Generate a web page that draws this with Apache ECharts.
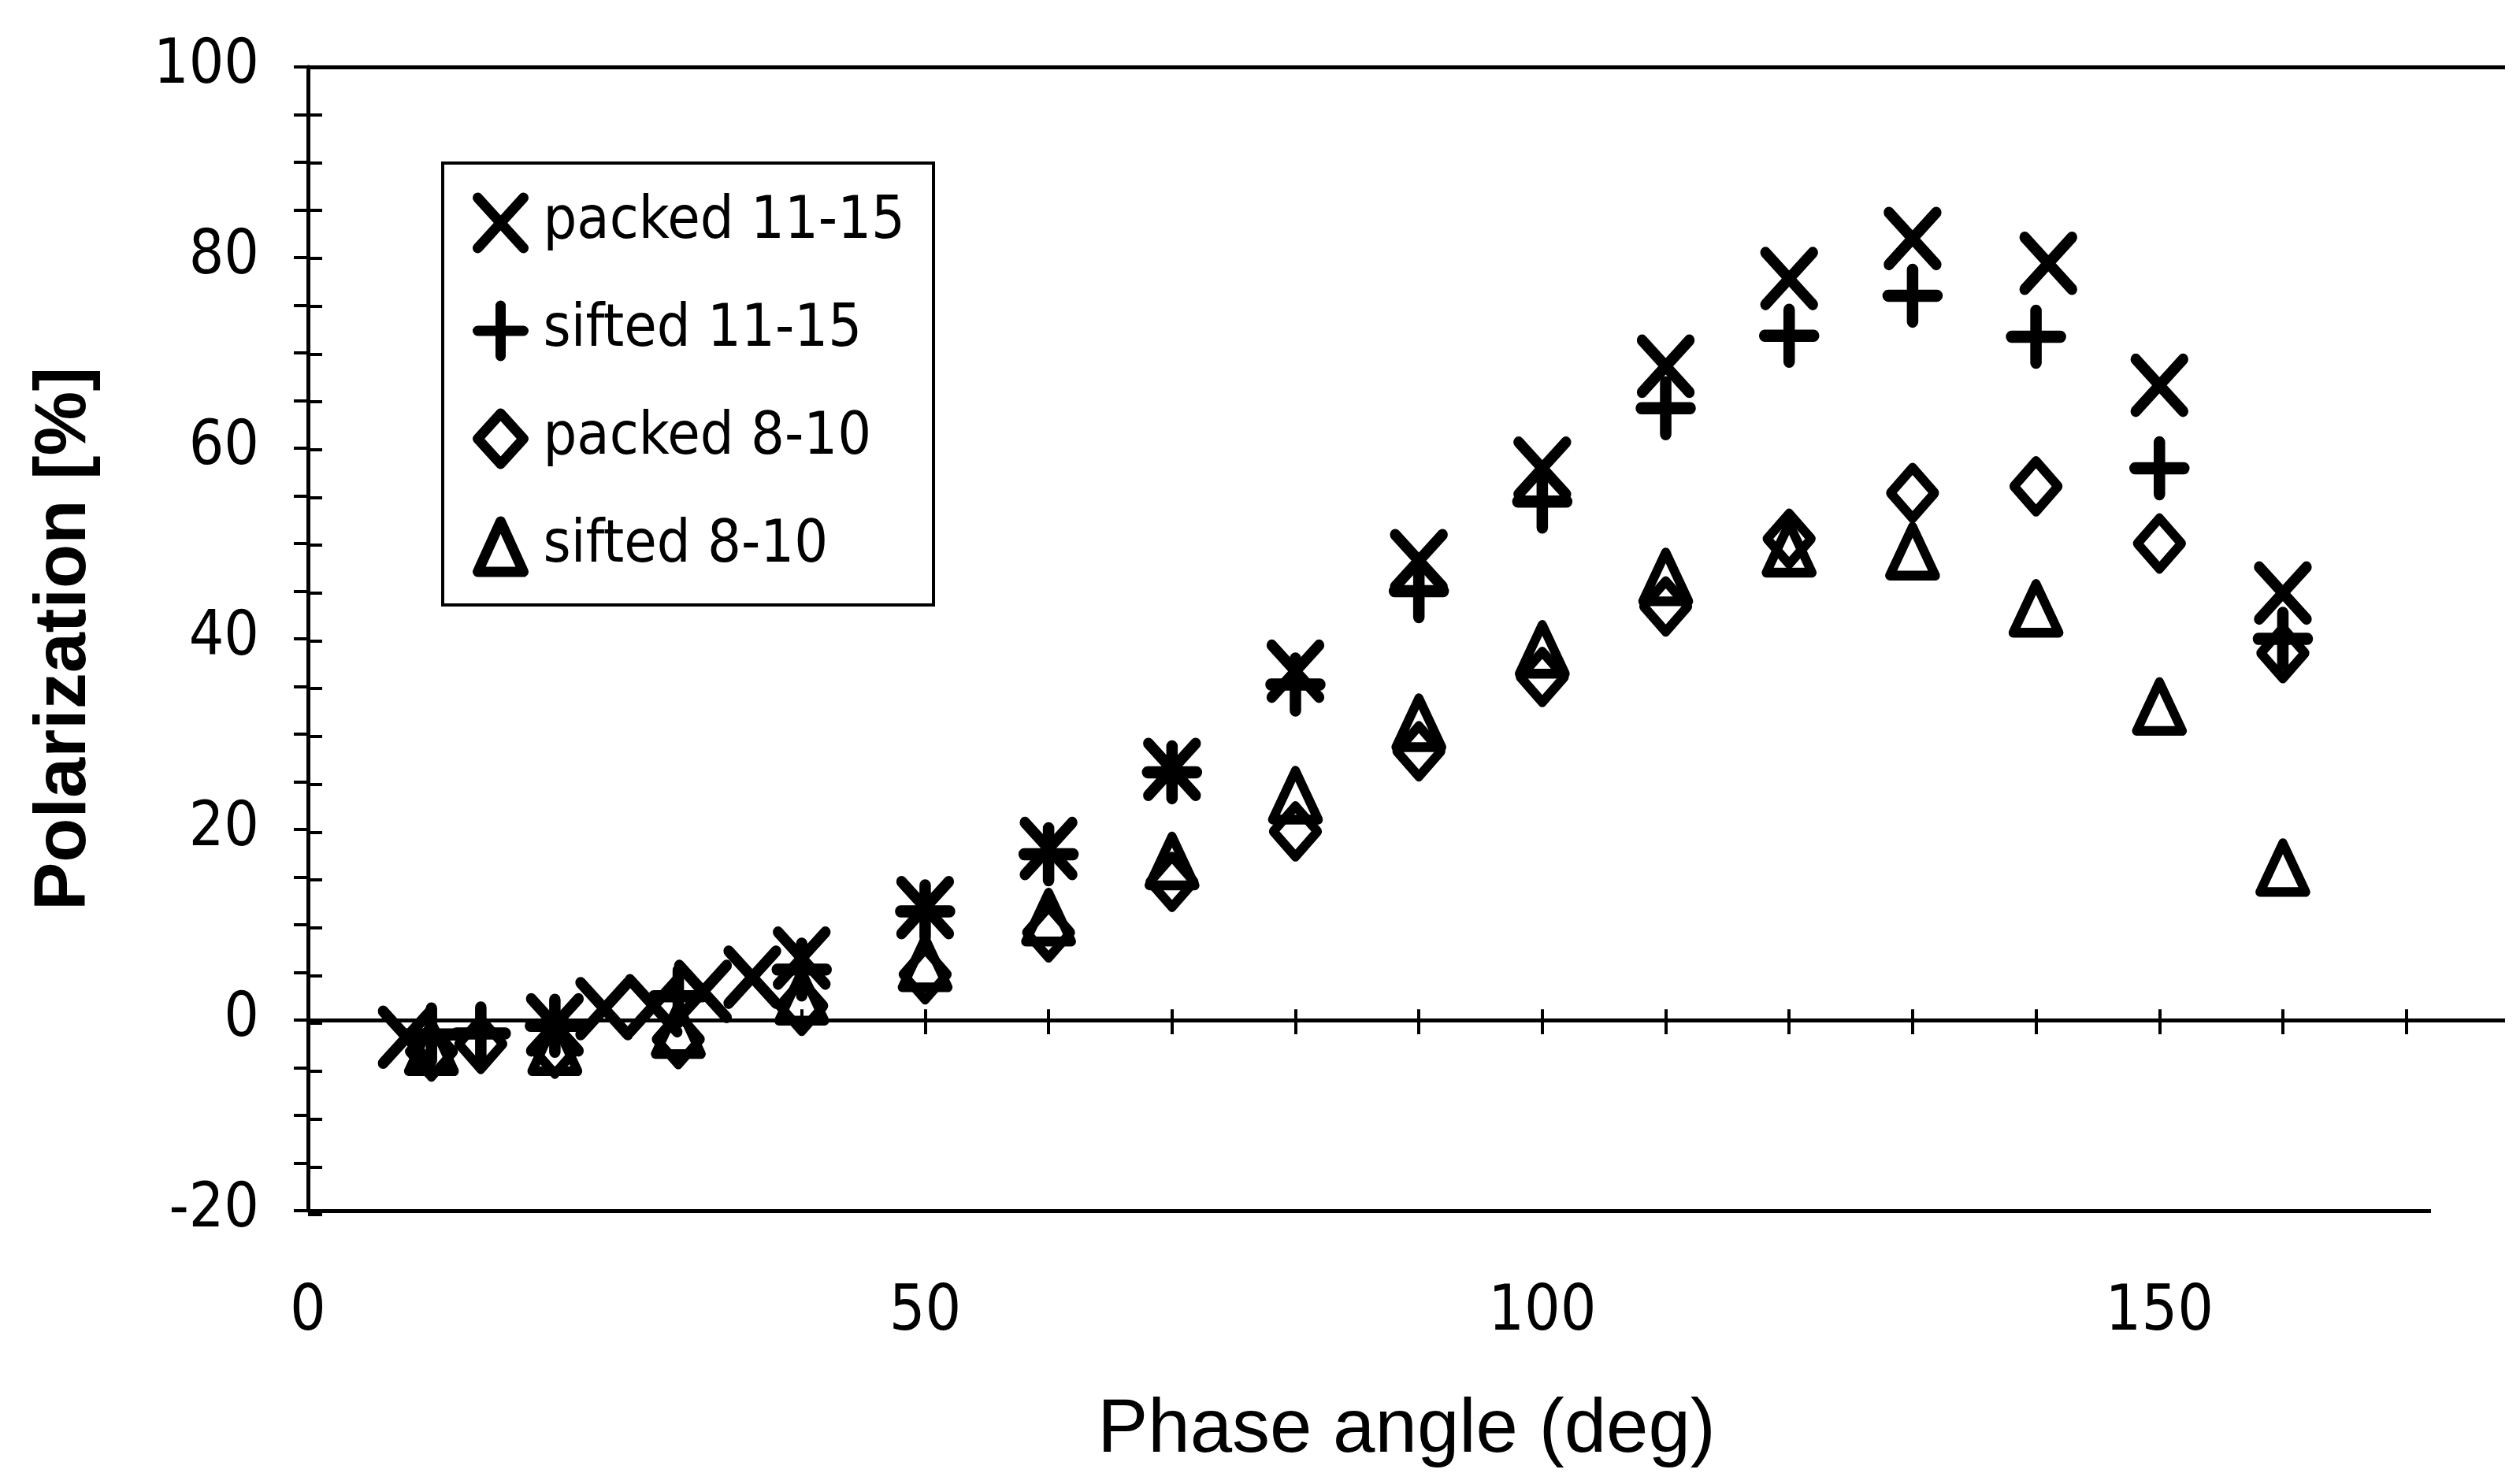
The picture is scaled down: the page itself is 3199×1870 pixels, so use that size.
<!DOCTYPE html>
<html><head><meta charset="utf-8">
<script src="https://cdn.jsdelivr.net/npm/echarts@6/dist/echarts.min.js"></script>
<style>html,body{margin:0;padding:0;background:#fff}#c{width:3199px;height:1870px}</style>
</head><body><div id="c"></div>
<script>
// ---- data ----
const seriesNames = ['packed 11-15', 'sifted 11-15', 'packed 8-10', 'sifted 8-10'];

const packed1115X = [8, 20, 24, 28, 32, 36, 40, 50, 60, 70, 80, 90, 100, 110, 120, 130, 141, 150, 160];
const packed1115Y = [-1.8, -0.5, 1.2, 1.5, 3.0, 4.5, 6.5, 11.8, 18.0, 26.3, 36.6, 48.2, 57.9, 68.6, 77.8, 82.0, 79.4, 66.6, 44.8];

const sifted1115X = [10, 14, 20, 30, 40, 50, 60, 70, 80, 90, 100, 110, 120, 130, 140, 150, 160];
const sifted1115Y = [-1.5, -1.4, -0.6, 2.5, 5.3, 11.4, 17.4, 26.0, 35.2, 45.0, 54.4, 64.2, 71.8, 76.0, 71.7, 57.9, 40.0];

const packed810X = [10, 14, 20, 30, 40, 50, 60, 70, 80, 90, 100, 110, 120, 130, 140, 150, 160];
const packed810Y = [-3.3, -2.5, -3.0, -2.0, 1.5, 4.8, 9.2, 14.5, 19.8, 28.2, 36.0, 43.4, 50.5, 55.3, 56.0, 50.0, 38.5];

const sifted810X = [10, 20, 30, 40, 50, 60, 70, 80, 90, 100, 110, 120, 130, 140, 150, 160];
const sifted810Y = [-2.8, -2.8, -1.0, 2.5, 6.0, 10.8, 16.7, 23.6, 31.2, 38.9, 46.5, 49.5, 49.2, 43.2, 32.9, 16.0];

// axis definitions
const xMin = 0, xFrameMax = 178, xAxisLineEnd = 172;
const xTickValues = [0, 10, 20, 30, 40, 50, 60, 70, 80, 90, 100, 110, 120, 130, 140, 150, 160, 170];
const xLabelValues = [0, 50, 100, 150];
const yMin = -20, yMax = 100, yTickStep = 5, yLabelStep = 20;

const pair = (xs, ys) => xs.map((x, i) => [x, ys[i]]);

const symX = 'path://M0,0L10,11M10,0L0,11';
const symPlus = 'path://M5,0L5,11M0,5.5L10,5.5';

const font = "'DejaVu Sans Condensed', 'Liberation Sans', sans-serif";
const gridRect = { left: 391, top: 85, right: 19, bottom: 328 };

const chart = echarts.init(document.getElementById('c'), null, { renderer: 'canvas' });

function scatter(name, data, symbol, size, bw) {
  return {
    name, type: 'scatter', data, symbol, symbolSize: size,
    xAxisIndex: 0, yAxisIndex: 0,
    itemStyle: { color: 'none', borderColor: '#000', borderWidth: bw, borderCap: 'round', borderJoin: 'round', opacity: 1 },
    emphasis: { disabled: true }, z: 5
  };
}

chart.setOption({
  animation: false,
  backgroundColor: '#fff',
  grid: [Object.assign({}, gridRect), Object.assign({}, gridRect)],
  legend: {
    data: seriesNames,
    orient: 'vertical', left: 562, top: 207,
    padding: [31, 36, 29, 38],
    itemWidth: 58, itemHeight: 64, itemGap: 47,
    borderColor: '#000', borderWidth: 4,
    itemStyle: { borderWidth: 13, borderColor: '#000', color: 'none' },
    textStyle: { fontFamily: font, fontSize: 75, color: '#000', lineHeight: 90, padding: [0, 0, 0, 20] },
    selectedMode: false
  },
  xAxis: [{
    type: 'value', gridIndex: 0, min: xMin, max: xFrameMax,
    axisLine: { show: false },
    axisTick: { show: true, inside: false, length: 18, customValues: xTickValues, lineStyle: { color: '#000', width: 4 } },
    axisLabel: { customValues: xLabelValues, fontFamily: font, fontSize: 80, color: '#000', margin: 90 },
    splitLine: { show: false },
    name: 'Phase angle (deg)', nameLocation: 'middle', nameGap: 232,
    nameTextStyle: { fontFamily: 'Liberation Sans', fontSize: 96, color: '#000' }
  }, {
    type: 'value', gridIndex: 1, min: xMin, max: xFrameMax,
    axisLine: { show: false },
    axisTick: { show: true, inside: true, length: 18, customValues: xTickValues, lineStyle: { color: '#000', width: 4 } },
    axisLabel: { show: false }, splitLine: { show: false }
  }],
  yAxis: [{
    type: 'value', gridIndex: 0, min: yMin, max: yMax, interval: yTickStep,
    axisLine: { show: true, lineStyle: { color: '#000', width: 5 } },
    axisTick: { show: true, inside: false, length: 18, lineStyle: { color: '#000', width: 4 } },
    axisLabel: { fontFamily: font, fontSize: 78, color: '#000', margin: 62,
      formatter: v => (v % yLabelStep === 0 ? String(v) : '') },
    splitLine: { show: false },
    name: 'Polarization [%]', nameLocation: 'middle', nameGap: 262, nameRotate: 90,
    nameTextStyle: { fontFamily: 'Liberation Sans', fontWeight: 'bold', fontSize: 92, color: '#000' }
  }, {
    type: 'value', gridIndex: 1, min: yMin, max: yMax, interval: yTickStep,
    axisLine: { show: false },
    axisTick: { show: true, inside: true, length: 18, lineStyle: { color: '#000', width: 4 } },
    axisLabel: { show: false }, splitLine: { show: false }
  }],
  series: [
    scatter(seriesNames[0], pair(packed1115X, packed1115Y), symX, [60, 66], 14),
    scatter(seriesNames[1], pair(sifted1115X, sifted1115Y), symPlus, [62, 66], 15),
    scatter(seriesNames[2], pair(packed810X, packed810Y), 'diamond', [56, 64], 12),
    scatter(seriesNames[3], pair(sifted810X, sifted810Y), 'triangle', [58, 62], 12),
    {
      name: 'frame', type: 'scatter', data: [], xAxisIndex: 0, yAxisIndex: 0, silent: true,
      markLine: {
        silent: true, symbol: ['none', 'none'], label: { show: false }, animation: false,
        lineStyle: { color: '#000', width: 5, type: 'solid' },
        data: [
          [{ coord: [xMin, yMin] }, { coord: [xAxisLineEnd, yMin] }],
          [{ coord: [xMin, yMax] }, { coord: [xFrameMax, yMax] }],
          [{ coord: [xMin, 0] }, { coord: [xFrameMax, 0] }]
        ]
      }
    }
  ]
});
</script></body></html>
